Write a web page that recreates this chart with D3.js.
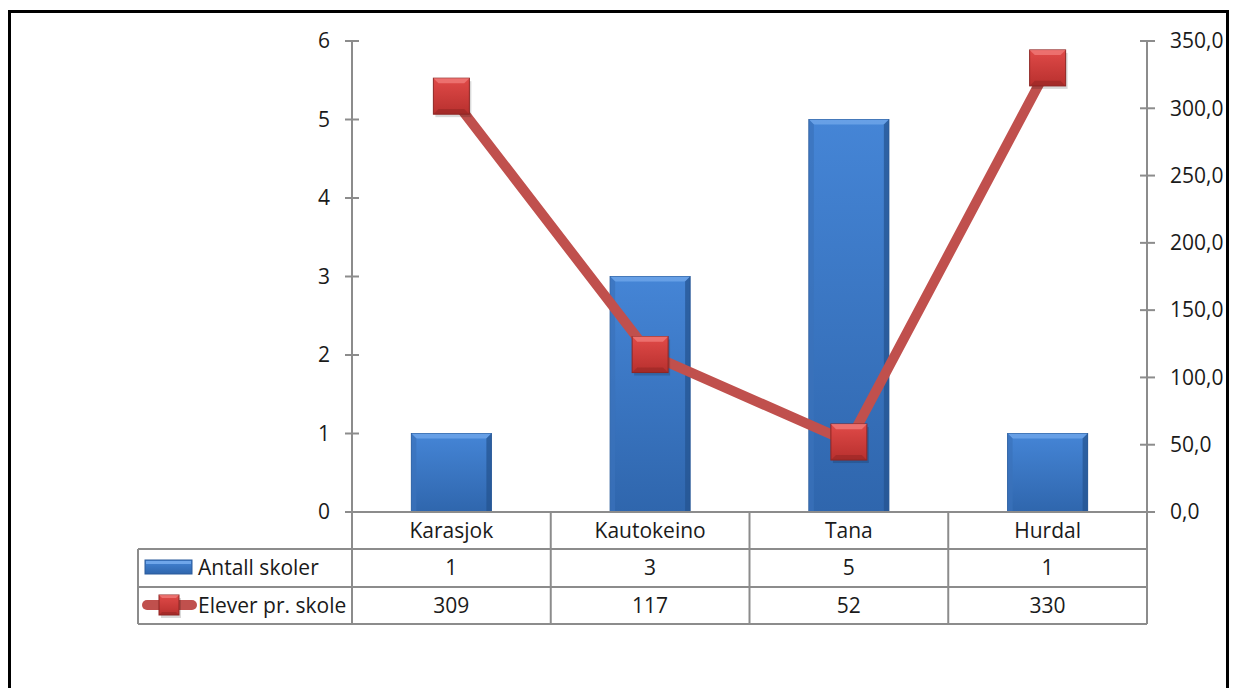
<!DOCTYPE html>
<html><head><meta charset="utf-8">
<script src="https://cdn.jsdelivr.net/npm/d3@7"></script>
<style>body{margin:0;background:#fff;}svg{display:block;}text{font-family:"Open Sans",Lato,sans-serif;fill:#1a1a1a;}</style>
</head><body><svg id="c" width="1237" height="688"></svg>
<script>
const categories = ["Karasjok","Kautokeino","Tana","Hurdal"];
const antallSkoler = [1,3,5,1];
const eleverPrSkole = [309,117,52,330];
const elevLabels = ["309","117","52","330"];
const leftTicks = [0,1,2,3,4,5,6];
const rightTicks = [0,50,100,150,200,250,300,350];
const seriesNames = ["Antall skoler","Elever pr. skole"];
const FS = 21;

const svg = d3.select("#c");
const defs = svg.append("defs");
const bg = defs.append("linearGradient").attr("id","barG").attr("x1",0).attr("y1",0).attr("x2",0).attr("y2",1);
bg.append("stop").attr("offset","0%").attr("stop-color","#4585d6");
bg.append("stop").attr("offset","100%").attr("stop-color","#2f66ad");
const mg = defs.append("linearGradient").attr("id","mkG").attr("x1",0).attr("y1",0).attr("x2",0).attr("y2",1);
mg.append("stop").attr("offset","0%").attr("stop-color","#e04a48");
mg.append("stop").attr("offset","100%").attr("stop-color","#b8302e");

// outer frame
svg.append("rect").attr("x",9.5).attr("y",11.5).attr("width",1218).attr("height",700)
  .attr("fill","none").attr("stroke","#000").attr("stroke-width",3);

const x0 = 352, x1 = 1147, yTop = 41, yBot = 512;
const x = d3.scaleBand().domain(categories).range([x0,x1]);
const yL = d3.scaleLinear().domain([0,6]).range([yBot,yTop]);
const yR = d3.scaleLinear().domain([0,350]).range([yBot,yTop]);
const grey = "#8c8c8c";

// left axis
const gl = svg.append("g");
gl.append("line").attr("x1",x0).attr("x2",x0).attr("y1",yTop).attr("y2",yBot).attr("stroke",grey).attr("stroke-width",2);
gl.selectAll("line.t").data(leftTicks).join("line").attr("class","t")
  .attr("x1",x0-7).attr("x2",x0+7).attr("y1",d=>yL(d)).attr("y2",d=>yL(d)).attr("stroke",grey).attr("stroke-width",2);
gl.selectAll("text").data(leftTicks).join("text").attr("x",330).attr("y",d=>yL(d)).attr("dy","0.35em")
  .attr("text-anchor","end").attr("font-size",FS).text(d=>d);

// right axis
const gr = svg.append("g");
gr.append("line").attr("x1",x1).attr("x2",x1).attr("y1",yTop).attr("y2",yBot).attr("stroke",grey).attr("stroke-width",2);
gr.selectAll("line.t").data(rightTicks).join("line").attr("class","t")
  .attr("x1",x1-7).attr("x2",x1+8).attr("y1",d=>yR(d)).attr("y2",d=>yR(d)).attr("stroke",grey).attr("stroke-width",2);
gr.selectAll("text").data(rightTicks).join("text").attr("x",1170).attr("y",d=>yR(d)).attr("dy","0.35em")
  .attr("text-anchor","start").attr("font-size",FS).text(d=>d3.format(".1f")(d).replace(".",","));

// bars
const bw = 80;
const bars = svg.append("g");
categories.forEach((c,i)=>{
  const bx = x(c)+x.bandwidth()/2-bw/2, by = yL(antallSkoler[i]), bh = yBot-by;
  const g = bars.append("g");
  g.append("rect").attr("x",bx).attr("y",by).attr("width",bw).attr("height",bh).attr("fill","url(#barG)").attr("stroke","#2a5a9a").attr("stroke-width",1);
  const e = 5;
  g.append("polygon").attr("points",`${bx},${by} ${bx+bw},${by} ${bx+bw-e},${by+e} ${bx+e},${by+e}`).attr("fill","#6fa6ea").attr("opacity",0.8);
  g.append("polygon").attr("points",`${bx},${by} ${bx+e},${by+e} ${bx+e},${by+bh} ${bx},${by+bh}`).attr("fill","#3b72bb").attr("opacity",0.7);
  g.append("polygon").attr("points",`${bx+bw},${by} ${bx+bw-e},${by+e} ${bx+bw-e},${by+bh} ${bx+bw},${by+bh}`).attr("fill","#24538f").attr("opacity",0.7);
});

// line
const line = d3.line().x((d,i)=>x(categories[i])+x.bandwidth()/2).y(d=>yR(d));
svg.append("path").datum(eleverPrSkole).attr("d",line).attr("fill","none").attr("stroke","#c0504d").attr("stroke-width",10).attr("stroke-linejoin","miter");

function marker(g, cx, cy, s){
  const h = s/2, e = Math.max(3, s/7);
  g.append("rect").attr("x",cx-h+2).attr("y",cy-h+3).attr("width",s).attr("height",s).attr("fill","#000").attr("opacity",0.15);
  g.append("rect").attr("x",cx-h).attr("y",cy-h).attr("width",s).attr("height",s).attr("fill","url(#mkG)").attr("stroke","#8e2624").attr("stroke-width",1);
  g.append("polygon").attr("points",`${cx-h},${cy-h} ${cx+h},${cy-h} ${cx+h-e},${cy-h+e} ${cx-h+e},${cy-h+e}`).attr("fill","#f07a78").attr("opacity",0.8);
  g.append("polygon").attr("points",`${cx-h},${cy+h} ${cx+h},${cy+h} ${cx+h-e},${cy+h-e} ${cx-h+e},${cy+h-e}`).attr("fill","#8f2422").attr("opacity",0.5);
}
const mk = svg.append("g");
eleverPrSkole.forEach((v,i)=>marker(mk, x(categories[i])+x.bandwidth()/2, yR(v), 36));

// data table
const tL = 138, r0 = 512, r1 = 549, r2 = 587, r3 = 624;
const tg = svg.append("g").attr("stroke",grey).attr("stroke-width",2);
tg.append("line").attr("x1",x0).attr("x2",x1).attr("y1",r0).attr("y2",r0);
tg.append("line").attr("x1",tL).attr("x2",x1).attr("y1",r1).attr("y2",r1);
tg.append("line").attr("x1",tL).attr("x2",x1).attr("y1",r2).attr("y2",r2);
tg.append("line").attr("x1",tL).attr("x2",x1).attr("y1",r3).attr("y2",r3);
tg.append("line").attr("x1",tL).attr("x2",tL).attr("y1",r1).attr("y2",r3);
const vlines = categories.map(c=>x(c)).concat([x1]);
tg.selectAll("line.v").data(vlines).join("line").attr("class","v").attr("x1",d=>d).attr("x2",d=>d).attr("y1",r0).attr("y2",r3);

const tt = svg.append("g").attr("font-size",FS).attr("text-anchor","middle");
categories.forEach((c,i)=>{
  const cx = x(c)+x.bandwidth()/2;
  tt.append("text").attr("x",cx).attr("y",(r0+r1)/2).attr("dy","0.35em").text(c);
  tt.append("text").attr("x",cx).attr("y",(r1+r2)/2).attr("dy","0.35em").text(antallSkoler[i]);
  tt.append("text").attr("x",cx).attr("y",(r2+r3)/2).attr("dy","0.35em").text(elevLabels[i]);
});

// legend keys
const lg = svg.append("g");
lg.append("rect").attr("x",145).attr("y",560).attr("width",47).attr("height",14).attr("fill","url(#barG)").attr("stroke","#2a5a9a");
lg.append("rect").attr("x",146).attr("y",561).attr("width",45).attr("height",3).attr("fill","#6fa6ea");
lg.append("line").attr("x1",147).attr("x2",192).attr("y1",605).attr("y2",605).attr("stroke","#c0504d").attr("stroke-width",10).attr("stroke-linecap","round");
marker(lg, 169, 605, 20);
lg.append("text").attr("x",198).attr("y",(r1+r2)/2).attr("dy","0.35em").attr("font-size",FS).text(seriesNames[0]);
lg.append("text").attr("x",198).attr("y",(r2+r3)/2).attr("dy","0.35em").attr("font-size",FS).text(seriesNames[1]);
</script></body></html>
